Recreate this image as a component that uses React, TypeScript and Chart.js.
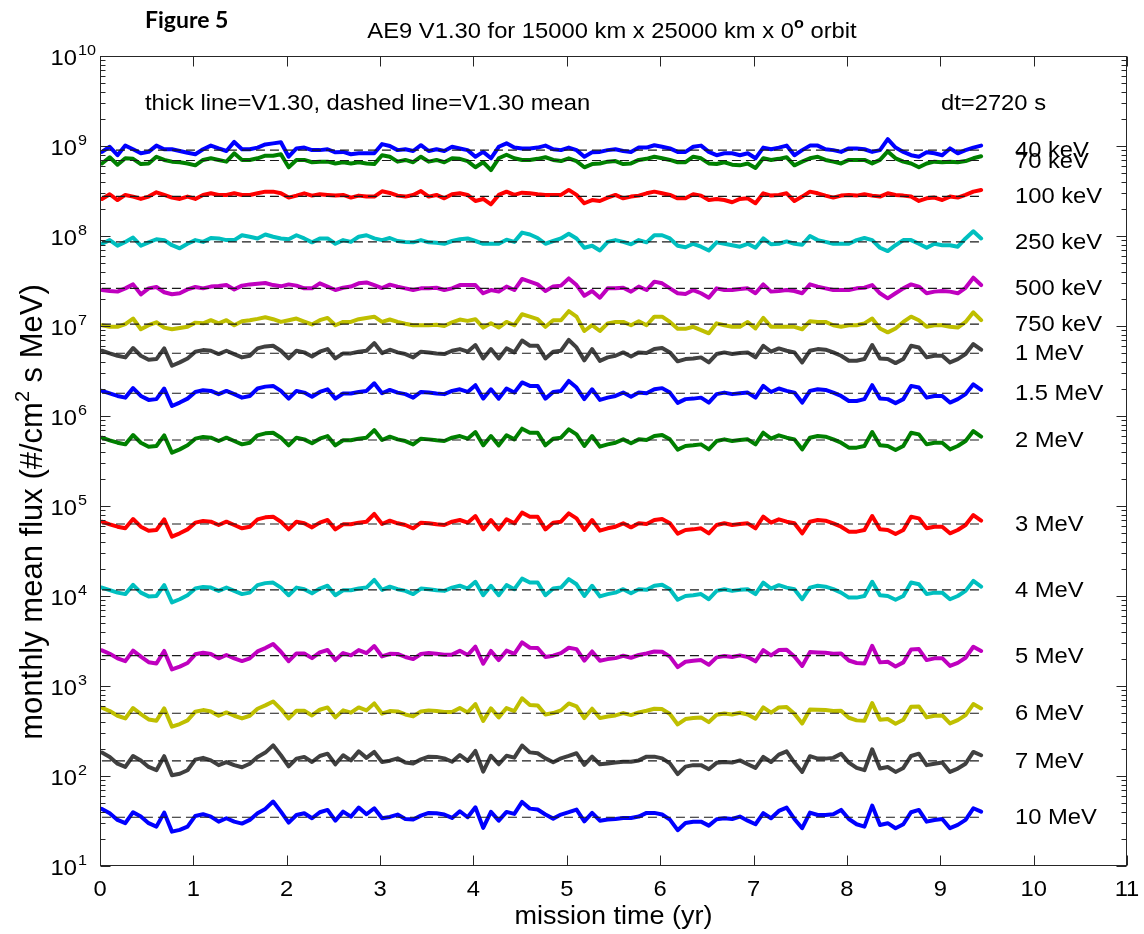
import React, { useEffect, useRef } from 'react';
import { Chart, registerables } from 'chart.js';

Chart.register(...registerables);

// ---------- data ----------
const energyLabels = ['40 keV', '70 keV', '100 keV', '250 keV', '500 keV', '750 keV', '1 MeV', '1.5 MeV', '2 MeV', '3 MeV', '4 MeV', '5 MeV', '6 MeV', '7 MeV', '10 MeV'];

// V1.30 mean flux (#/cm^2 s MeV), the dashed lines
const meanFlux = [9.0e8, 6.9e8, 2.76e8, 8.6e7, 2.62e7, 1.05e7, 4.98e6, 1.79e6, 5.41e5, 6.31e4, 1.17e4, 2.17e3, 498, 147, 34.8];

// unit of each monthly series below
const fluxUnits = [1e7, 1e7, 1e6, 1e6, 1e5, 1e5, 1e4, 1e4, 1e3, 1e2, 1e2, 1e1, 1, 1, 1];

const flux40keV = [86, 98, 79, 101, 92, 83, 86, 101, 92, 92, 88, 84, 81, 92, 101, 94, 88, 111, 92, 92, 96, 104, 107, 110, 76, 94, 96, 90, 90, 92, 85, 86, 81, 83, 83, 83, 105, 100, 90, 92, 88, 102, 88, 92, 88, 98, 94, 90, 76, 86, 73, 98, 107, 96, 94, 94, 96, 101, 92, 90, 96, 90, 76, 85, 86, 90, 92, 88, 86, 96, 96, 102, 98, 94, 86, 86, 98, 101, 86, 79, 83, 83, 79, 83, 73, 96, 92, 96, 101, 79, 90, 101, 101, 92, 90, 86, 94, 94, 92, 86, 90, 119, 96, 86, 79, 76, 85, 83, 79, 94, 83, 90, 96, 101];
const flux70keV = [64, 75, 62, 73, 72, 63, 64, 76, 70, 67, 66, 64, 61, 70, 73, 70, 67, 83, 70, 70, 73, 78, 78, 81, 58, 70, 70, 66, 67, 67, 64, 66, 64, 66, 64, 63, 79, 76, 67, 70, 66, 76, 67, 70, 66, 73, 72, 68, 58, 66, 54, 73, 80, 73, 70, 70, 72, 75, 70, 68, 73, 68, 58, 63, 64, 67, 68, 63, 64, 70, 72, 76, 73, 70, 66, 66, 76, 73, 64, 63, 66, 62, 61, 64, 57, 73, 70, 72, 75, 61, 67, 73, 76, 70, 67, 64, 70, 70, 70, 64, 70, 87, 73, 67, 64, 58, 64, 67, 66, 67, 66, 68, 73, 77];
const flux100keV = [258, 291, 251, 286, 274, 258, 274, 306, 286, 267, 258, 274, 258, 286, 298, 286, 286, 298, 286, 286, 298, 311, 311, 298, 267, 281, 298, 281, 291, 286, 281, 286, 267, 281, 274, 274, 314, 301, 281, 274, 286, 316, 274, 286, 262, 291, 298, 286, 245, 258, 225, 286, 311, 286, 303, 298, 291, 286, 286, 286, 325, 286, 231, 251, 245, 267, 286, 262, 274, 281, 298, 311, 298, 286, 262, 262, 291, 281, 251, 258, 251, 237, 258, 262, 231, 298, 281, 286, 298, 245, 274, 311, 298, 281, 267, 281, 286, 281, 291, 281, 274, 298, 286, 281, 274, 245, 262, 267, 251, 274, 267, 286, 311, 325];
const flux250keV = [82, 90, 78, 86, 96, 78, 85, 92, 90, 79, 73, 82, 90, 86, 95, 94, 90, 90, 102, 98, 94, 104, 98, 94, 92, 102, 94, 85, 94, 94, 82, 90, 86, 98, 102, 94, 90, 95, 88, 86, 85, 90, 85, 84, 82, 88, 92, 94, 88, 82, 82, 82, 91, 86, 109, 104, 95, 82, 88, 94, 106, 94, 74, 78, 69, 86, 90, 86, 81, 90, 85, 102, 102, 94, 78, 75, 82, 76, 69, 85, 82, 79, 76, 82, 74, 94, 81, 82, 87, 82, 80, 100, 90, 86, 82, 82, 82, 90, 95, 90, 74, 68, 79, 90, 90, 82, 74, 82, 79, 79, 76, 94, 113, 94];
const flux500keV = [251, 245, 241, 262, 290, 225, 262, 271, 237, 225, 231, 255, 271, 262, 274, 278, 285, 255, 281, 290, 295, 300, 285, 276, 290, 281, 262, 262, 298, 274, 251, 266, 274, 298, 305, 285, 264, 288, 274, 262, 251, 262, 262, 266, 251, 262, 285, 285, 285, 231, 251, 241, 274, 251, 333, 311, 290, 245, 274, 281, 338, 285, 217, 245, 206, 262, 262, 266, 241, 274, 251, 311, 298, 262, 231, 227, 251, 231, 206, 262, 251, 251, 258, 262, 231, 290, 241, 245, 251, 245, 231, 290, 274, 262, 251, 251, 251, 262, 266, 285, 231, 203, 231, 262, 290, 274, 231, 241, 245, 241, 231, 266, 344, 285];
const flux750keV = [102, 98, 98, 105, 121, 92, 102, 110, 96, 92, 95, 98, 109, 107, 116, 107, 116, 102, 113, 116, 120, 125, 119, 111, 116, 121, 112, 104, 116, 123, 102, 111, 111, 119, 123, 127, 111, 118, 111, 106, 102, 102, 102, 103, 100, 110, 118, 114, 119, 96, 107, 96, 111, 102, 135, 127, 119, 98, 116, 116, 146, 127, 88, 102, 88, 107, 111, 111, 102, 113, 102, 127, 127, 111, 93, 93, 98, 90, 83, 107, 102, 98, 98, 111, 94, 123, 98, 98, 98, 98, 92, 113, 111, 111, 102, 98, 102, 102, 107, 121, 94, 85, 94, 111, 127, 116, 98, 102, 102, 98, 96, 111, 142, 116];
const flux1MeV = [531, 496, 467, 448, 569, 467, 422, 429, 564, 362, 394, 436, 518, 540, 531, 488, 531, 488, 448, 467, 564, 593, 603, 531, 436, 531, 509, 459, 518, 554, 436, 496, 496, 518, 531, 646, 500, 545, 509, 488, 448, 518, 509, 496, 488, 531, 554, 518, 614, 436, 554, 436, 564, 509, 690, 603, 603, 436, 518, 531, 700, 578, 415, 554, 410, 448, 467, 509, 459, 509, 500, 554, 569, 509, 405, 429, 436, 448, 394, 488, 509, 488, 500, 509, 448, 603, 518, 564, 531, 509, 394, 531, 554, 545, 509, 467, 411, 411, 429, 614, 436, 429, 387, 429, 603, 578, 448, 467, 467, 394, 429, 488, 630, 545];
const flux1p5MeV = [190, 178, 167, 160, 204, 167, 151, 154, 202, 129, 141, 156, 185, 193, 190, 175, 190, 175, 160, 167, 202, 212, 216, 190, 156, 190, 182, 164, 185, 198, 156, 178, 178, 185, 190, 231, 179, 195, 182, 175, 160, 185, 182, 178, 175, 190, 198, 185, 220, 156, 198, 156, 202, 182, 236, 216, 216, 156, 185, 190, 245, 207, 154, 198, 151, 160, 167, 182, 164, 182, 179, 198, 204, 182, 140, 154, 156, 160, 141, 175, 182, 175, 179, 182, 160, 216, 185, 202, 190, 182, 141, 190, 198, 195, 182, 167, 147, 147, 154, 220, 156, 154, 139, 154, 216, 207, 160, 167, 167, 141, 154, 175, 225, 195];
const flux2MeV = [574, 537, 505, 484, 615, 505, 456, 464, 610, 391, 426, 472, 560, 584, 574, 527, 574, 527, 484, 505, 610, 642, 652, 574, 472, 574, 550, 497, 560, 599, 472, 537, 537, 560, 574, 698, 541, 589, 550, 527, 484, 560, 550, 537, 527, 574, 599, 560, 664, 472, 599, 472, 610, 550, 723, 652, 652, 472, 560, 574, 711, 625, 464, 599, 456, 484, 505, 550, 497, 550, 541, 599, 615, 550, 423, 464, 472, 484, 426, 527, 550, 527, 541, 550, 484, 652, 560, 610, 574, 550, 426, 574, 599, 589, 550, 505, 445, 445, 464, 664, 472, 464, 419, 464, 652, 625, 484, 505, 505, 426, 464, 527, 681, 589];
const flux3MeV = [669, 626, 589, 565, 717, 589, 532, 541, 711, 456, 497, 550, 653, 681, 669, 615, 669, 615, 565, 589, 711, 748, 761, 669, 550, 669, 642, 579, 653, 699, 550, 626, 626, 653, 669, 815, 631, 687, 642, 615, 565, 653, 642, 626, 615, 669, 699, 653, 774, 550, 699, 550, 711, 642, 844, 761, 761, 550, 653, 669, 829, 729, 541, 699, 532, 565, 589, 642, 579, 642, 631, 699, 717, 642, 493, 541, 550, 565, 497, 615, 642, 615, 631, 642, 565, 761, 653, 711, 669, 642, 497, 669, 699, 687, 642, 589, 519, 519, 541, 774, 550, 541, 488, 541, 761, 729, 565, 589, 589, 497, 541, 615, 794, 687];
const flux4MeV = [124, 116, 109, 105, 133, 109, 99, 100, 132, 85, 92, 102, 121, 126, 124, 114, 124, 114, 105, 109, 132, 139, 141, 124, 102, 124, 119, 107, 121, 130, 102, 116, 116, 121, 124, 151, 117, 127, 119, 114, 105, 121, 119, 116, 114, 124, 130, 121, 144, 102, 130, 102, 132, 119, 156, 141, 141, 102, 121, 124, 154, 135, 100, 130, 99, 105, 109, 119, 107, 119, 117, 130, 133, 119, 91, 100, 102, 105, 92, 114, 119, 114, 117, 119, 105, 141, 121, 132, 124, 119, 92, 124, 130, 127, 119, 109, 96, 96, 100, 144, 102, 100, 91, 100, 141, 135, 105, 109, 109, 92, 100, 114, 147, 127];
const flux5MeV = [249, 228, 203, 189, 247, 212, 184, 178, 245, 153, 164, 180, 225, 234, 227, 203, 221, 203, 189, 203, 242, 264, 293, 240, 189, 230, 230, 204, 236, 251, 194, 232, 219, 251, 232, 278, 213, 228, 227, 210, 199, 227, 232, 228, 223, 223, 247, 221, 273, 177, 245, 194, 247, 228, 305, 266, 264, 210, 217, 232, 266, 257, 191, 242, 191, 199, 204, 217, 206, 221, 230, 242, 240, 212, 162, 186, 191, 194, 172, 208, 215, 210, 219, 210, 188, 251, 219, 251, 253, 213, 167, 238, 236, 234, 228, 230, 192, 180, 178, 280, 183, 186, 165, 183, 255, 257, 194, 203, 204, 167, 181, 206, 273, 245];
const flux6MeV = [573, 527, 467, 436, 569, 488, 425, 411, 564, 353, 378, 415, 518, 540, 522, 467, 509, 467, 436, 467, 559, 609, 674, 554, 436, 531, 531, 471, 545, 578, 448, 536, 505, 578, 536, 641, 492, 527, 522, 483, 459, 522, 536, 527, 513, 513, 569, 509, 630, 408, 564, 448, 569, 527, 730, 614, 609, 483, 500, 536, 640, 593, 440, 559, 440, 459, 471, 500, 475, 509, 531, 559, 554, 488, 374, 429, 440, 448, 397, 479, 496, 483, 505, 483, 433, 578, 505, 578, 583, 492, 384, 549, 545, 540, 527, 531, 444, 415, 411, 646, 422, 429, 381, 422, 588, 593, 448, 467, 471, 384, 418, 475, 630, 564];
const flux7MeV = [182, 163, 137, 126, 167, 149, 126, 116, 166, 102, 106, 116, 152, 159, 149, 132, 143, 132, 125, 137, 163, 182, 219, 170, 128, 156, 163, 143, 167, 177, 135, 170, 149, 188, 159, 185, 143, 148, 157, 141, 138, 153, 164, 163, 157, 144, 171, 147, 190, 112, 168, 135, 168, 160, 218, 183, 179, 157, 142, 157, 167, 179, 133, 164, 135, 138, 141, 144, 144, 149, 164, 164, 157, 138, 105, 127, 132, 132, 119, 140, 143, 141, 149, 135, 123, 163, 143, 173, 188, 141, 111, 166, 156, 156, 159, 177, 141, 123, 116, 198, 121, 126, 111, 123, 167, 177, 132, 137, 141, 111, 121, 137, 185, 170];
const flux10MeV = [43.1, 38.6, 32.5, 29.9, 39.6, 35.4, 29.9, 27.4, 39.2, 24.1, 25.2, 27.4, 36.0, 37.6, 35.4, 31.1, 33.9, 31.1, 29.6, 32.5, 38.6, 43.1, 52.0, 40.2, 30.3, 36.9, 38.6, 33.9, 39.6, 42.0, 31.9, 40.2, 35.4, 44.6, 37.6, 43.8, 33.9, 35.1, 37.3, 33.3, 32.8, 36.3, 38.9, 38.6, 37.3, 34.2, 40.6, 34.8, 44.9, 26.5, 39.9, 31.9, 39.9, 37.9, 51.5, 43.4, 42.4, 37.3, 33.6, 37.3, 39.6, 42.4, 31.4, 38.9, 31.9, 32.8, 33.3, 34.2, 34.2, 35.4, 38.9, 38.9, 37.3, 32.8, 25.0, 30.1, 31.1, 31.1, 28.1, 33.1, 33.9, 33.3, 35.4, 31.9, 29.1, 38.6, 33.9, 40.9, 44.6, 33.3, 26.3, 39.2, 36.9, 36.9, 37.6, 42.0, 33.3, 29.1, 27.4, 46.9, 28.6, 29.9, 26.3, 29.1, 39.6, 42.0, 31.1, 32.5, 33.3, 26.3, 28.6, 32.5, 43.8, 40.2];

const monthlyFlux = [flux40keV, flux70keV, flux100keV, flux250keV, flux500keV, flux750keV, flux1MeV, flux1p5MeV, flux2MeV, flux3MeV, flux4MeV, flux5MeV, flux6MeV, flux7MeV, flux10MeV];

// month number of each sample, and mission time in years
const monthIndex = flux40keV.map((_, i) => i);
const missionTime = monthIndex.map((m) => (m + 0.25) / 12);

const xTickValues = [0, 1, 2, 3, 4, 5, 6, 7, 8, 9, 10, 11];
const xTickLabels = ['0', '1', '2', '3', '4', '5', '6', '7', '8', '9', '10', '11'];
const yTickExponents = [1, 2, 3, 4, 5, 6, 7, 8, 9, 10];
const labelTime = 9.8;

// ---------- styles ----------
const lineColors = ['#0000ff', '#008000', '#ff0000', '#00bfbf', '#bf00bf', '#bfbf00', '#404040', '#0000ff', '#008000', '#ff0000', '#00bfbf', '#bf00bf', '#bfbf00', '#404040', '#0000ff'];
const FONT = '"Liberation Sans", Arial, Helvetica, sans-serif';
const STRETCH = 1.08;

type Part = { text: string; size: number; weight?: string; dy?: number; family?: string };

function drawParts(ctx: CanvasRenderingContext2D, parts: Part[], x: number, y: number, align: 'left' | 'center' | 'right', stretch = STRETCH) {
  const widths = parts.map((p) => {
    ctx.font = `${p.weight ?? 'normal'} ${p.size}px ${p.family ?? FONT}`;
    return ctx.measureText(p.text).width;
  });
  const total = widths.reduce((a, b) => a + b, 0) * stretch;
  const start = align === 'center' ? x - total / 2 : align === 'right' ? x - total : x;
  ctx.save();
  ctx.translate(start, y);
  ctx.scale(stretch, 1);
  ctx.textAlign = 'left';
  ctx.textBaseline = 'alphabetic';
  let cx = 0;
  parts.forEach((p, i) => {
    ctx.font = `${p.weight ?? 'normal'} ${p.size}px ${p.family ?? FONT}`;
    ctx.fillText(p.text, cx, p.dy ?? 0);
    cx += widths[i];
  });
  ctx.restore();
}

const matlabAxes = {
  id: 'matlabAxes',
  afterDraw(chart: any) {
    const { ctx, chartArea: a } = chart;
    const xs = chart.scales.x;
    const ys = chart.scales.y;
    ctx.save();
    // box
    const L = Math.round(a.left) + 0.5;
    const R = Math.round(a.right) - 0.5;
    const T = Math.round(a.top) + 0.5;
    const B = Math.round(a.bottom) - 0.5;
    ctx.strokeStyle = '#262626';
    ctx.lineWidth = 1;
    ctx.strokeRect(L, T, R - L, B - T);
    ctx.beginPath();
    xTickValues.forEach((v) => {
      const px = Math.round(xs.getPixelForValue(v)) + 0.5;
      ctx.moveTo(px, B);
      ctx.lineTo(px, B - 10);
      ctx.moveTo(px, T);
      ctx.lineTo(px, T + 10);
    });
    const lastExp = yTickExponents[yTickExponents.length - 1];
    yTickExponents.forEach((e) => {
      for (let m = 1; m <= 9; m++) {
        if (e === lastExp && m > 1) break;
        const py = Math.round(ys.getPixelForValue(m * Math.pow(10, e))) + 0.5;
        const len = m === 1 ? 10 : 5;
        ctx.moveTo(L, py);
        ctx.lineTo(L + len, py);
        ctx.moveTo(R, py);
        ctx.lineTo(R - len, py);
      }
    });
    ctx.stroke();

    ctx.fillStyle = '#000000';
    // x tick labels
    xTickValues.forEach((v, i) => {
      drawParts(ctx, [{ text: xTickLabels[i], size: 22 }], xs.getPixelForValue(v), 896, 'center');
    });
    // y tick labels 10^n
    yTickExponents.forEach((e) => {
      const py = ys.getPixelForValue(Math.pow(10, e));
      drawParts(ctx, [{ text: '10', size: 22 }], 77, py + 9, 'right');
      drawParts(ctx, [{ text: String(e), size: 15 }], 78, py - 1, 'left');
    });
    // axis titles
    drawParts(ctx, [{ text: 'mission time (yr)', size: 25 }], (a.left + a.right) / 2, 924, 'center');
    ctx.save();
    ctx.translate(42, 512);
    ctx.rotate(-Math.PI / 2);
    drawParts(ctx, [
      { text: 'monthly mean flux (#/cm', size: 31 },
      { text: '2', size: 20, dy: -13 },
      { text: ' s MeV)', size: 31 },
    ], 0, 0, 'center', 1);
    ctx.restore();
    // title
    drawParts(ctx, [
      { text: 'AE9 V1.30 for 15000 km x 25000 km x 0', size: 22 },
      { text: 'o', size: 15, weight: 'bold', dy: -10 },
      { text: ' orbit', size: 22 },
    ], 612, 38, 'center');
    drawParts(ctx, [{ text: 'Figure 5', size: 23, weight: 'bold', family: 'Lato, "Open Sans", sans-serif' }], 145, 28, 'left', 1);
    // annotations
    drawParts(ctx, [{ text: 'thick line=V1.30, dashed line=V1.30 mean', size: 22 }], 145, 110, 'left');
    drawParts(ctx, [{ text: 'dt=2720 s', size: 22 }], 941, 110, 'left');
    // energy labels
    const lx = xs.getPixelForValue(labelTime);
    energyLabels.forEach((lab, i) => {
      drawParts(ctx, [{ text: lab, size: 22 }], lx, ys.getPixelForValue(meanFlux[i]) + 7, 'left');
    });
    ctx.restore();
  },
};

export default function App() {
  const canvasRef = useRef<HTMLCanvasElement | null>(null);

  useEffect(() => {
    const canvas = canvasRef.current;
    if (!canvas) return;
    const datasets: any[] = [];
    monthlyFlux.forEach((series, k) => {
      datasets.push({
        label: energyLabels[k],
        data: series.map((v, i) => ({ x: missionTime[i], y: v * fluxUnits[k] })),
        borderColor: lineColors[k],
        backgroundColor: lineColors[k],
        borderWidth: 4,
        borderJoinStyle: 'round',
        borderCapStyle: 'round',
        pointRadius: 0,
        tension: 0,
        fill: false,
        order: 2,
      });
    });
    meanFlux.forEach((m, k) => {
      datasets.push({
        label: energyLabels[k] + ' mean',
        data: [
          { x: missionTime[0], y: m },
          { x: missionTime[missionTime.length - 1], y: m },
        ],
        borderColor: '#1a1a1a',
        borderWidth: 1.2,
        borderDash: [9, 5],
        pointRadius: 0,
        fill: false,
        order: 1,
      });
    });

    const chart = new Chart(canvas, {
      type: 'line',
      data: { datasets },
      options: {
        responsive: false,
        animation: false,
        events: [],
        layout: { padding: { left: 100, right: 17, top: 56, bottom: 68 } },
        plugins: {
          legend: { display: false },
          tooltip: { enabled: false },
          title: { display: false },
        },
        scales: {
          x: { type: 'linear', min: 0, max: 11, display: false },
          y: { type: 'logarithmic', min: 10, max: 1e10, display: false },
        },
      },
      plugins: [matlabAxes],
    } as any);
    return () => chart.destroy();
  }, []);

  return (
    <div style={{ position: 'absolute', left: 0, top: 0, width: 1144, height: 934, background: '#ffffff' }}>
      <canvas ref={canvasRef} width={1144} height={934} style={{ display: 'block', width: 1144, height: 934 }} />
    </div>
  );
}
